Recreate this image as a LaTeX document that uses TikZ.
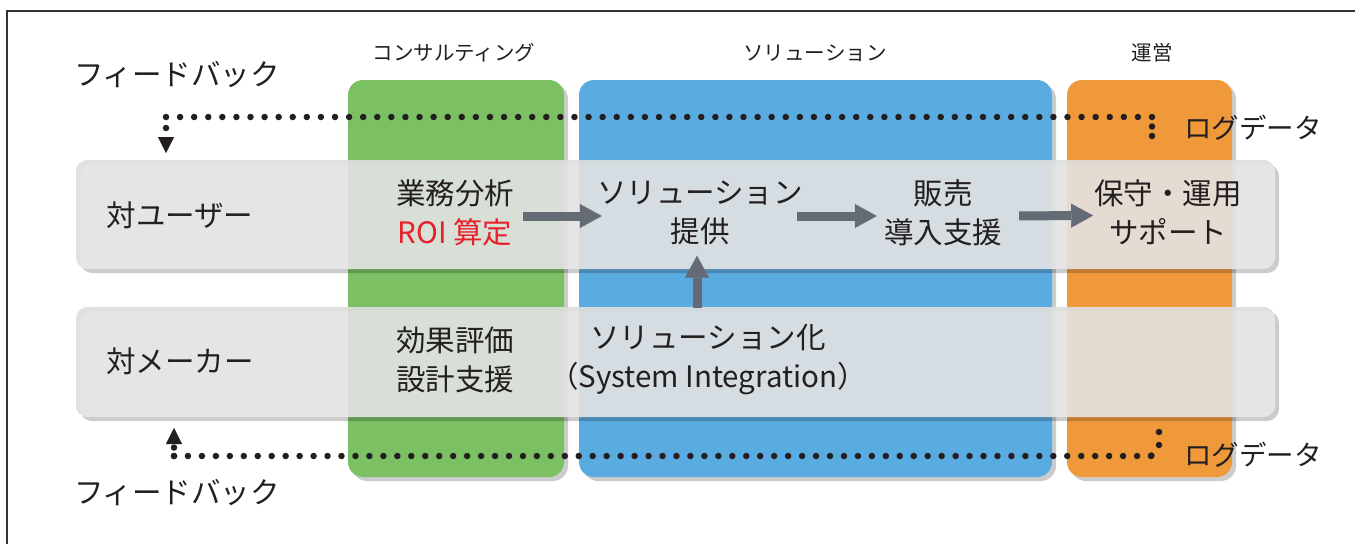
\documentclass[tikz,border=0pt]{standalone}
\usepackage{fontspec}
\setmainfont{Noto Sans CJK JP}
\usetikzlibrary{arrows.meta}
\definecolor{cgreen}{HTML}{7BC062}
\definecolor{cblue}{HTML}{5AABDF}
\definecolor{corange}{HTML}{F0993A}
\definecolor{cband}{HTML}{E3E3E3}
\definecolor{carrow}{HTML}{646B74}
\definecolor{ctext}{HTML}{231F20}
\definecolor{cred}{HTML}{E8202A}
\definecolor{cframe}{HTML}{333333}
\begin{document}
\begin{tikzpicture}[x=1pt,y=-1pt,
  column/.style={rounded corners=15pt},
  shadowfill/.style={fill=black,fill opacity=0.2},
  band/.style={fill=cband,fill opacity=0.9,rounded corners=12pt},
  head/.style={font=\fontsize{20.5}{24}\selectfont,text=ctext,inner sep=0pt},
  body/.style={font=\fontsize{29.5}{39}\selectfont,text=ctext,inner sep=0pt,align=center},
  side/.style={font=\fontsize{29.5}{34}\selectfont,text=ctext,inner sep=0pt},
  logtext/.style={font=\fontsize{27.5}{32}\selectfont,text=ctext,inner sep=0pt},
  flow/.style={draw=carrow,line width=9pt,-{Triangle[width=24pt,length=22pt,line width=0.4pt]}},
  dotline/.style={draw=ctext,line width=6.5pt,line cap=round},
  fbarrow/.style={-{Triangle[width=16pt,length=16pt,line width=0.4pt]}}
]
\useasboundingbox (0,0) rectangle (1355,544);
\fill[white] (0,0) rectangle (1355,544);
% frame
\draw[cframe,line width=2pt] (7,544) -- (7,11) -- (1355,11);

% columns with shadows
\path[column,shadowfill] (352,84) rectangle (568,481);
\path[column,fill=cgreen] (348,80) rectangle (564,477);
\path[column,shadowfill] (583,84) rectangle (1056,481);
\path[column,fill=cblue] (579,80) rectangle (1052,477);
\path[column,shadowfill] (1071,84) rectangle (1236,481);
\path[column,fill=corange] (1067,80) rectangle (1232,477);

% column headings
\node[head] (hcons) at (454,53) {コンサルティング};
\node[head] (hsol) at (815,53) {ソリューション};
\node[head] (hops) at (1152,53) {運営};

% bands
\path[shadowfill,even odd rule,rounded corners=12pt] (80,164) rectangle (1279,273) (76,160) rectangle (1275,269);
\path[band] (76,160) rectangle (1275,269);
\path[shadowfill,even odd rule,rounded corners=12pt] (80,311) rectangle (1279,421) (76,307) rectangle (1275,417);
\path[band] (76,307) rectangle (1275,417);

% side texts
\node[side] (fbtop) at (177,75) {フィードバック};
\node[side] (fbbot) at (177,493) {フィードバック};
\node[logtext] (logtop) at (1253,128) {ログデータ};
\node[logtext] (logbot) at (1253,455) {ログデータ};
\node[side] (user) at (180,215) {対ユーザー};
\node[side] (maker) at (180,361) {対メーカー};

% body texts
\node[body] (biz) at (455,212.5) {業務分析\\\textcolor{cred}{ROI 算定}};
\node[body] (sol) at (700,212.5) {ソリューション\\提供};
\node[body] (sales) at (943,212.5) {販売\\導入支援};
\node[body] (maint) at (1168,212) {保守・運用\\サポート};
\node[body] (eff) at (455,359.5) {効果評価\\設計支援};
\node[body] (si) at (708,359.5) {ソリューション化\\（System Integration）};

% flow arrows
\draw[flow,shorten <=9pt,shorten >=-5pt] ([yshift=-3.5pt]biz.east) -- ([yshift=-3.5pt]sol.west);
\draw[flow,shorten <=-6pt,shorten >=7pt] ([yshift=-3.5pt]sol.east) -- ([yshift=-3.5pt]sales.west);
\draw[flow,shorten <=17pt,shorten >=1pt] ([yshift=-3.5pt]sales.east) -- ([yshift=-3.5pt]maint.west);
\draw[flow,shorten <=16pt,shorten >=11pt] ([xshift=-3pt]si.north -| sol.south) -- ([xshift=-3pt]sol.south);

% feedback dotted connectors
\coordinate (t1) at (1152,136);
\coordinate (t2) at (1152,117);
\coordinate (t3) at (166,117);
\coordinate (t4) at (166,153);
\draw[dotline,dash pattern=on 0pt off 9.5pt] (t1) -- (t2);
\draw[dotline,dash pattern=on 0pt off 14.086pt] (t2) -- (t3);
\draw[dotline,dash pattern=on 0pt off 11pt,fbarrow] (t3) -- (t4);

\coordinate (b1) at (1159,432);
\coordinate (b2) at (1159,445);
\coordinate (b3) at (1151,456);
\coordinate (b4) at (174,456);
\coordinate (b5) at (174,428);
\draw[dotline,dash pattern=on 0pt off 13pt] (b1) -- (b2) -- (b3);
\draw[dotline,dash pattern=on 0pt off 13.957pt] (b3) -- (b4);
\draw[dotline,dash pattern=on 0pt off 8.5pt,fbarrow] (b4) -- (b5);
\end{tikzpicture}
\end{document}
